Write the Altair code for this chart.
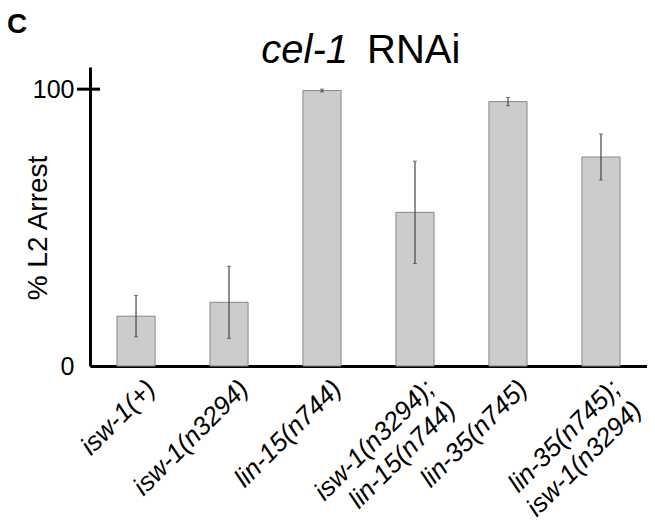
import altair as alt
import pandas as pd

# ---- data ----
genotypes = ["isw-1(+)", "isw-1(n3294)", "lin-15(n744)",
             "isw-1(n3294);|lin-15(n744)", "lin-35(n745)",
             "lin-35(n745);|isw-1(n3294)"]
arrest_pct = [18, 23, 99.5, 55.5, 95.5, 75.5]
err = [7.5, 13, 0.5, 18.5, 1.5, 8.3]
y_ticks = [0, 100]
y_title = "% L2 Arrest"
title_italic = "cel-1"
title_plain = "RNAi"
panel_label = "C"

df = pd.DataFrame({"g": genotypes, "v": arrest_pct, "e": err})
df["lo"] = df["v"] - df["e"]
df["hi"] = df["v"] + df["e"]

FONT = "Liberation Sans"

xscale = alt.Scale(paddingInner=0.59, paddingOuter=0.29)
yscale = alt.Scale(domain=[0, 108], nice=False)

xaxis = alt.Axis(title=None, labelAngle=315, labelFontSize=26,
                 labelFontStyle="italic", labelFont=FONT, labelColor="black",
                 labelExpr="split(datum.label, '|')", labelLineHeight=30,
                 labelOffset=6, labelPadding=9, ticks=False,
                 domainColor="black", domainWidth=3)
yaxis = alt.Axis(values=y_ticks, title=None,
                 labelFontSize=25, labelFont=FONT,
                 labelPadding=16, labelColor="black", ticks=False,
                 domainWidth=3, domainColor="black", grid=False)

X = alt.X("g:N", sort=genotypes, scale=xscale, axis=xaxis)
Xp = alt.X("g:N", sort=genotypes)

base = alt.Chart(df)
bars = base.mark_bar(fill="#cccccc", stroke="#888888", strokeWidth=1).encode(
    x=X, y=alt.Y("v:Q", scale=yscale, axis=yaxis))
whisk = base.mark_rule(color="#444444", strokeWidth=1.2).encode(
    x=Xp, y=alt.Y("lo:Q", title=None), y2="hi:Q")
cap_lo = base.mark_tick(color="#444444", size=4, thickness=1).encode(
    x=Xp, y=alt.Y("lo:Q", title=None))
cap_hi = base.mark_tick(color="#444444", size=4, thickness=1).encode(
    x=Xp, y=alt.Y("hi:Q", title=None))

tick100 = alt.Chart(alt.Data(values=[{"t": y_ticks[1]}])).mark_rule(
    color="black", strokeWidth=3).encode(
    y=alt.Y("t:Q", title=None), x=alt.value(-13), x2=alt.value(10))

ytitle = alt.Chart(alt.Data(values=[{"t": y_title}])).mark_text(
    font=FONT, fontSize=28, angle=270, align="center", baseline="middle",
    color="black").encode(text="t:N", x=alt.value(-51), y=alt.value(161))

t1 = alt.Chart(alt.Data(values=[{"t": title_italic}])).mark_text(
    font=FONT, fontSize=40, fontStyle="italic", align="right",
    baseline="alphabetic", color="black").encode(
    text="t:N", x=alt.value(258), y=alt.value(-4))
t2 = alt.Chart(alt.Data(values=[{"t": title_plain}])).mark_text(
    font=FONT, fontSize=40, align="left", baseline="alphabetic",
    color="black").encode(text="t:N", x=alt.value(277), y=alt.value(-4))
pl = alt.Chart(alt.Data(values=[{"t": panel_label}])).mark_text(
    font=FONT, fontSize=28, fontWeight="bold", align="left",
    baseline="alphabetic", color="black").encode(
    text="t:N", x=alt.value(-83), y=alt.value(-34))

chart = alt.layer(bars, whisk, cap_lo, cap_hi, tick100, ytitle, t1, t2, pl).properties(
    width=557, height=299,
    autosize=alt.AutoSizeParams(type="none"),
    padding={"left": 82, "top": 59, "right": 0, "bottom": 155},
).configure_view(stroke=None)

chart.save("out.html", embed_options={"renderer": "svg", "actions": False})
